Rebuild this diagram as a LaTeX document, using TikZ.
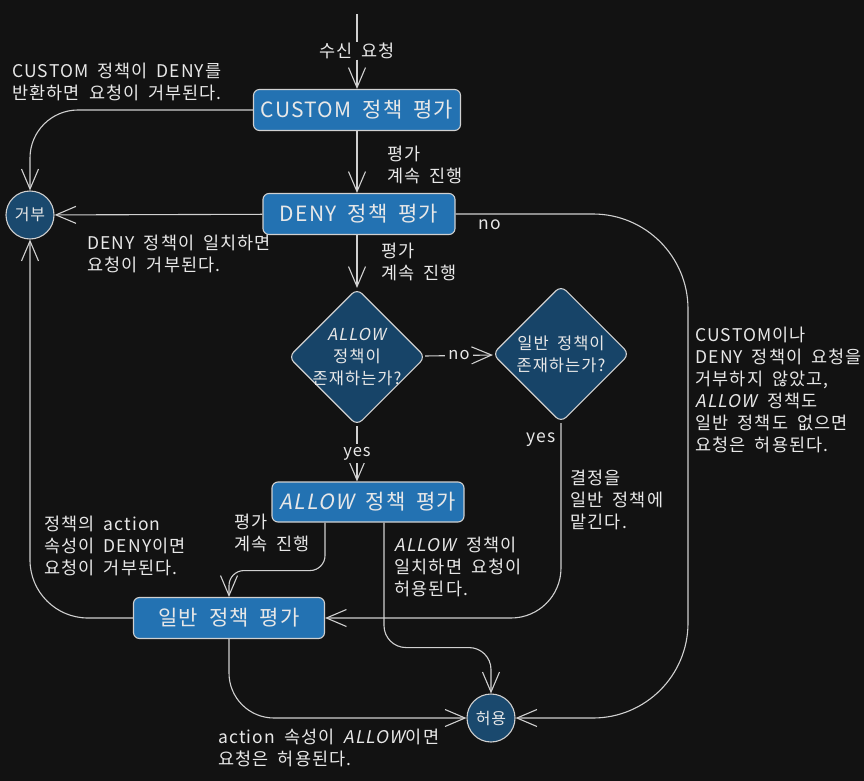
\documentclass[tikz,border=0pt]{standalone}
\usepackage{fontspec}
\setmainfont{Noto Sans CJK KR}[AutoFakeSlant=0.2, LetterSpace=6, WordSpace=1.8]
\usetikzlibrary{arrows.meta,shapes.geometric}
\definecolor{bg}{HTML}{121212}
\definecolor{boxblue}{HTML}{2372B2}
\definecolor{endblue}{HTML}{1A496E}
\definecolor{askblue}{HTML}{174468}
\definecolor{wire}{HTML}{D0D0D0}
\definecolor{ink}{HTML}{E8E8E8}
\newcommand{\al}{\textit{ALLOW}}
\tikzset{
  stage/.style={draw=wire, fill=boxblue, rounded corners=6pt, minimum height=41pt, inner sep=0pt, font=\fontsize{21}{26}\selectfont},
  ending/.style={circle, draw=wire, fill=endblue, minimum size=48pt, inner sep=0pt, font=\fontsize{16}{20}\selectfont},
  ask/.style={diamond, draw=wire, fill=askblue, minimum width=137pt, minimum height=137pt, inner sep=0pt, rounded corners=7pt},
  asktext/.style={align=center, inner sep=0pt, font=\fontsize{16.5}{22}\selectfont},
  lbl/.style={align=left, anchor=west, inner sep=0pt, font=\fontsize{17.5}{22}\selectfont},
  tag/.style={fill=bg, inner sep=3pt, font=\fontsize{16.5}{20}\selectfont},
  arr/.style={-{Straight Barb[length=20pt,width=17pt]}}
}
\begin{document}
\begin{tikzpicture}[x=1pt, y=-1pt, line width=1.1pt, draw=wire, text=ink]
  \useasboundingbox (0,0) rectangle (864,781);
  \fill[bg] (0,0) rectangle (864,781);

  \coordinate (top) at (357,14);
  \node[lbl, anchor=center] (recv) at (357,51) {수신 요청};
  \node[stage, minimum width=207pt] (custom) at (357,110) {CUSTOM 정책 평가};
  \node[stage, minimum width=192pt] (deny) at (359,214) {DENY 정책 평가};
  \node[ending] (reject) at (30,215) {거부};
  \node[ask] (allowq) at (357,357) {};
  \node[asktext] (allowqt) at (allowq) {\al\\정책이\\존재하는가?};
  \node[ask] (genq) at (561,354) {};
  \node[asktext] (genqt) at (genq) {일반 정책이\\존재하는가?};
  \node[stage, minimum width=192pt, minimum height=40pt] (allow) at (368,502) {\al{} 정책 평가};
  \node[stage, minimum width=191pt] (gen) at (229,618) {일반 정책 평가};
  \node[ending] (permit) at (491,718) {허용};
  \coordinate (rbend) at (688,460);

  \draw (top) -- (recv);
  \draw[arr] (recv) -- (custom);
  \draw[arr] (custom) -- (custom |- deny.north);
  \draw[arr, rounded corners=48pt] (custom.west) -| (reject.north);
  \draw[arr] (deny) -- (reject);
  \draw[arr] (deny.south -| allowq) -- (allowq.north);
  \draw[arr, rounded corners=95pt] (deny.east) -| (rbend) |- (permit.east);
  \draw[arr] (allowq) -- node[tag] (noa) {no} (genq);
  \draw[arr] (allowq.south) -- node[tag] (yesa) {yes} (allowq.south |- allow.north);
  \draw[arr, rounded corners=50pt] (genq.south) |- (gen.east);
  \draw[arr, rounded corners=15pt] ([xshift=-43pt]allow.south) -- ++(0,48) -| (gen.north);
  \draw[arr, rounded corners=22pt] ([xshift=16pt]allow.south) -- ++(0,125) -| (permit.north);
  \draw[arr, rounded corners=45pt] (gen.south) |- (permit.west);
  \draw[arr, rounded corners=58pt] (gen.west) -| (reject.south);

  \node[lbl] (l1) at (12,82) {CUSTOM 정책이 DENY를\\반환하면 요청이 거부된다.};
  \node[lbl] (l2) at (387,165) {평가\\계속 진행};
  \node[lbl] (l3) at (87,254) {DENY 정책이 일치하면\\요청이 거부된다.};
  \node[lbl] (l4) at (381,262) {평가\\계속 진행};
  \node[lbl, anchor=center] (l5) at (490,225) {no};
  \node[lbl] (l6) at (695,390) {CUSTOM이나\\DENY 정책이 요청을\\거부하지 않았고,\\\al{} 정책도\\일반 정책도 없으면\\요청은 허용된다.};
  \node[lbl, anchor=center] (l7) at (541,440) {yes};
  \node[lbl] (l8) at (570,500) {결정을\\일반 정책에\\맡긴다.};
  \node[lbl] (l9) at (44,546) {정책의 action\\속성이 DENY이면\\요청이 거부된다.};
  \node[lbl] (l10) at (234,533) {평가\\계속 진행};
  \node[lbl] (l11) at (394,567) {\al{} 정책이\\일치하면 요청이\\허용된다.};
  \node[lbl] (l12) at (218,748) {action 속성이 \al{}이면\\요청은 허용된다.};
\end{tikzpicture}
\end{document}
